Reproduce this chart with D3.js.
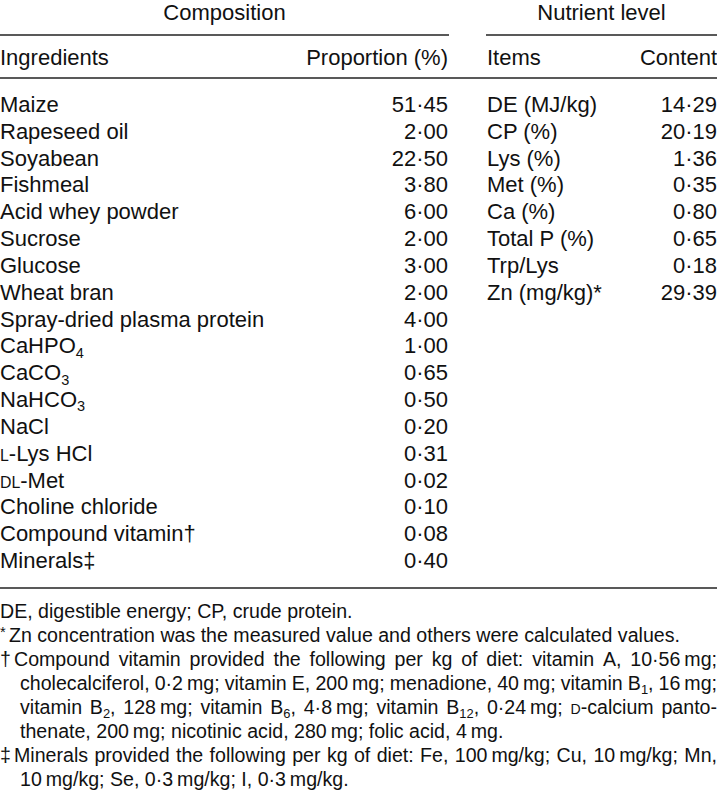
<!DOCTYPE html>
<html><head><meta charset="utf-8">
<script src="https://cdn.jsdelivr.net/npm/d3@7"></script>
<style>body{margin:0;background:#fff} svg{display:block}</style>
</head><body>
<script>
// ---- data ----
const groupTitles = ["Composition", "Nutrient level"];
const headers = ["Ingredients", "Proportion (%)", "Items", "Content"];
const ingredients = ["Maize","Rapeseed oil","Soyabean","Fishmeal","Acid whey powder","Sucrose","Glucose","Wheat bran","Spray-dried plasma protein","CaHPO_{4}","CaCO_{3}","NaHCO_{3}","NaCl","{sc:L}-Lys HCl","{sc:DL}-Met","Choline chloride","Compound vitamin†","Minerals‡"];
const proportions = [51.45, 2.00, 22.50, 3.80, 6.00, 2.00, 3.00, 2.00, 4.00, 1.00, 0.65, 0.50, 0.20, 0.31, 0.02, 0.10, 0.08, 0.40];
const items = ["DE (MJ/kg)","CP (%)","Lys (%)","Met (%)","Ca (%)","Total P (%)","Trp/Lys","Zn (mg/kg)*"];
const contents = [14.29, 20.19, 1.36, 0.35, 0.80, 0.65, 0.18, 29.39];
const footPrefixes = ["", "^{*}", "†", "", "", "", "‡", ""];
const footLines = [
  "DE, digestible energy; CP, crude protein.",
  "Zn concentration was the measured value and others were calculated values.",
  "Compound vitamin provided the following per kg of diet: vitamin A, 10·56\u2009mg;",
  "cholecalciferol, 0·2\u2009mg; vitamin E, 200\u2009mg; menadione, 40\u2009mg; vitamin B_{1}, 16\u2009mg;",
  "vitamin B_{2}, 128\u2009mg; vitamin B_{6}, 4·8\u2009mg; vitamin B_{12}, 0·24\u2009mg; {sc:D}-calcium panto-",
  "thenate, 200\u2009mg; nicotinic acid, 280\u2009mg; folic acid, 4\u2009mg.",
  "Minerals provided the following per kg of diet: Fe, 100\u2009mg/kg; Cu, 10\u2009mg/kg; Mn,",
  "10\u2009mg/kg; Se, 0·3\u2009mg/kg; I, 0·3\u2009mg/kg."
];
const footJustify = [false, false, true, true, true, false, true, false];
const footIndent = [0, 1, 1, 2, 2, 2, 1, 2];

// ---- layout ----
const W = 717, H = 790;
const FS = 22, FFS = 19.6;
const fmt = v => d3.format(".2f")(v).replace(".", "·");
const svg = d3.select("body").append("svg").attr("width", W).attr("height", H)
  .style("font-family", "'Liberation Sans', Arial, Helvetica, sans-serif").attr("fill", "#111");

const x = d3.scaleOrdinal().domain(["ing","prop","item","cont"]).range([0, 448, 487, 717]);
const y = d3.scaleLinear().domain([0, ingredients.length - 1]).range([112, 568]);
const yf = d3.scaleLinear().domain([0, footLines.length - 1]).range([618, 786]);
const indentX = d3.scaleOrdinal().domain([0,1,2]).range([0, 14, 20]);

function addRuns(t, str, fs) {
  const re = /_\{([^}]*)\}|\^\{([^}]*)\}|\{sc:([^}]*)\}/g;
  let last = 0, m, cur = 0;
  const push = (txt, size, off) => {
    if (!txt) return;
    const dy = off - cur; cur = off;
    const ts = t.append("tspan").text(txt).attr("font-size", size);
    if (dy) ts.attr("dy", dy);
  };
  while ((m = re.exec(str)) !== null) {
    push(str.slice(last, m.index), fs, 0);
    if (m[1] !== undefined) push(m[1], fs * 0.66, fs * 0.2);
    else if (m[2] !== undefined) push(m[2], fs * 0.75, -fs * 0.28);
    else push(m[3], fs * 0.72, 0);
    last = re.lastIndex;
  }
  push(str.slice(last), fs, 0);
  return t;
}

function drawLine(g, str, x0, yy, fs, x1) {
  if (!x1) { addRuns(g.append("text").attr("x", x0).attr("y", yy), str, fs); return; }
  const words = str.split(" ");
  const nodes = words.map(w => addRuns(g.append("text").attr("y", yy), w, fs));
  const widths = nodes.map(n => n.node().getComputedTextLength());
  const gap = (x1 - x0 - d3.sum(widths)) / (words.length - 1);
  let cx = x0;
  nodes.forEach((n, i) => { n.attr("x", cx); cx += widths[i] + gap; });
}

// group titles
svg.append("text").attr("x", 224.5).attr("y", 19.5).attr("text-anchor", "middle").attr("font-size", FS).text(groupTitles[0]);
svg.append("text").attr("x", 601.5).attr("y", 19.5).attr("text-anchor", "middle").attr("font-size", FS).text(groupTitles[1]);

// rules
const rule = (x1, x2, yy) => svg.append("line").attr("x1", x1).attr("x2", x2).attr("y1", yy).attr("y2", yy)
  .attr("stroke", "#222").attr("stroke-width", 1.6);
rule(0, 449, 35); rule(486, W, 35); rule(0, W, 78); rule(0, W, 588);

// headers
svg.append("text").attr("x", x("ing")).attr("y", 65).attr("font-size", FS).text(headers[0]);
svg.append("text").attr("x", x("prop")).attr("y", 65).attr("font-size", FS).attr("text-anchor", "end").text(headers[1]);
svg.append("text").attr("x", x("item")).attr("y", 65).attr("font-size", FS).text(headers[2]);
svg.append("text").attr("x", x("cont")).attr("y", 65).attr("font-size", FS).attr("text-anchor", "end").text(headers[3]);

// body
const body = svg.append("g").attr("font-size", FS);
ingredients.forEach((d, i) => addRuns(body.append("text").attr("x", x("ing")).attr("y", y(i)), d, FS));
body.selectAll("text.prop").data(proportions).join("text").attr("class", "prop")
  .attr("x", x("prop")).attr("y", (d, i) => y(i)).attr("text-anchor", "end").text(fmt);
body.selectAll("text.item").data(items).join("text").attr("class", "item")
  .attr("x", x("item")).attr("y", (d, i) => y(i)).text(d => d);
body.selectAll("text.cont").data(contents).join("text").attr("class", "cont")
  .attr("x", x("cont")).attr("y", (d, i) => y(i)).attr("text-anchor", "end").text(fmt);

// footnotes
const foot = svg.append("g").attr("font-size", FFS);
footLines.forEach((s, i) => {
  if (footPrefixes[i]) addRuns(foot.append("text").attr("x", 0).attr("y", yf(i)), footPrefixes[i], FFS);
  const x0 = footPrefixes[i] === "^{*}" ? 9 : indentX(footIndent[i]);
  drawLine(foot, s, x0, yf(i), FFS, footJustify[i] ? W : null);
});
</script>
</body></html>
